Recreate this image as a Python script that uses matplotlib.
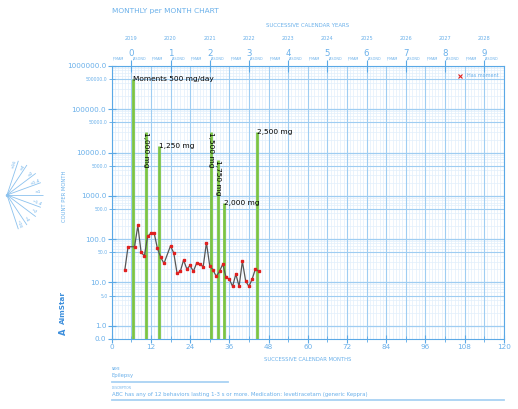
import numpy as np
import matplotlib
matplotlib.use('Agg')
import matplotlib.pyplot as plt
from matplotlib.ticker import FixedLocator, FixedFormatter, NullFormatter
from matplotlib.lines import Line2D

# ---- data ----
months = [4, 5, 7, 8, 9, 10, 11, 12, 13, 14, 15, 16,
          18, 19, 20, 21, 22, 23, 24, 25, 26, 27, 28, 29, 30, 31, 32, 33,
          34, 35, 36, 37, 38, 39, 40, 41, 42, 43, 44, 45]
counts = [19, 67, 67, 207, 50, 41, 116, 138, 138, 61, 38.5, 27.5,
          70, 48, 16.5, 18, 33, 20.4, 24.7, 18, 28, 26.6, 23, 83, 24.3, 19.6, 13.8, 18,
          26.6, 13.1, 12, 8.1, 15.6, 8.1, 30.6, 10.9, 8.1, 12, 20.7, 18]

moment_months = [6.5, 10.5, 14.5, 30.5, 32.5, 34.5, 44.5]
moment_heights = [500000, 30000, 14500, 30000, 6800, 690, 30000]
moment_labels = ['Moments 500 mg/day', '1,000 mg', '1,250 mg', '1,500 mg',
                 '1,750 mg', '2,000 mg', '2,500 mg']
moment_rotations = [0, -90, 0, -90, -90, 0, 0]

year_numbers = ['0', '1', '2', '3', '4', '5', '6', '7', '8', '9']
calendar_years = ['2019', '2020', '2021', '2022', '2023', '2024', '2025', '2026', '2027', '2028']
x_tick_labels = ['0', '12', '24', '36', '48', '60', '72', '84', '96', '108', '120']

y_major = [0.5, 1, 10, 100, 1000, 10000, 100000, 1000000]
y_major_labels = ['0.0', '1.0', '10.0', '100.0', '1000.0', '10000.0', '100000.0', '1000000.0']
y_five = [5, 50, 500, 5000, 50000, 500000]
y_five_labels = ['5.0', '50.0', '500.0', '5000.0', '50000.0', '500000.0']

celerations = [16, 4, 2, 1.4, 1, 1 / 1.4, 1 / 2, 1 / 4, 1 / 16]
celeration_labels = ['×16', '×4', '×2', '×1.4', '×1', '÷1.4', '÷2', '÷4', '÷16']

BLUE = '#5aa8e6'
TXT = '#6ab0ea'
GRID_MAJ = '#9fcdf2'
GRID_MIN = '#e1effb'
GREEN = '#7cc444'

W, H = 518, 409
fig = plt.figure(figsize=(W / 100, H / 100), dpi=100)
fig.patch.set_facecolor('white')

L, R, T, B = 111.7, 503.7, 66.0, 338.8
ax = fig.add_axes([L / W, 1 - B / H, (R - L) / W, (B - T) / H])
ax.set_yscale('log')
ax.set_xlim(0, 120)
ax.set_ylim(0.5, 1e6)

# grid
for m in range(0, 121):
    ax.axvline(m, color=GRID_MIN, lw=0.5, zorder=0)
for m in range(0, 121, 6):
    ax.axvline(m, color=GRID_MAJ, lw=0.8, zorder=0.5)
for d in range(0, 6):
    for k in [2, 3, 4, 6, 7, 8, 9]:
        ax.axhline(k * 10 ** d, color=GRID_MIN, lw=0.5, zorder=0)
for v in y_five:
    ax.axhline(v, color=GRID_MAJ, lw=0.8, zorder=0.5)
for v in y_major[1:]:
    ax.axhline(v, color=GRID_MAJ, lw=0.9, zorder=0.5)

# moments (green lines)
ax.vlines(moment_months, 0.5, moment_heights, color=GREEN, lw=2.0, zorder=2)
for mx, h, lab, rot in zip(moment_months, moment_heights, moment_labels, moment_rotations):
    if rot == 0:
        ax.text(mx, h, lab, ha='left', va='center', fontsize=5.3, color='black', zorder=5)
    else:
        ax.text(mx, h, lab, ha='center', va='top', rotation=rot, fontsize=5.3,
                color='black', zorder=5)

# data
ax.plot(months, counts, color='#555555', lw=0.9, zorder=3)
ax.plot(months, counts, ls='none', marker='s', ms=1.6, mfc='#e02020', mec='#e02020', zorder=4)

# legend
ax.plot([], [], ls='none', marker='x', color='#e02020', ms=3, mew=0.8, label='Has moment')
leg = ax.legend(loc='upper right', bbox_to_anchor=(0.995, 0.985), frameon=False,
                fontsize=3.5, handletextpad=0.4, borderpad=0.2)
for t in leg.get_texts():
    t.set_color(TXT)

# spines
for s in ax.spines.values():
    s.set_color(BLUE)
    s.set_linewidth(0.8)

# y ticks
ax.yaxis.set_major_locator(FixedLocator(y_major))
ax.yaxis.set_major_formatter(FixedFormatter(y_major_labels))
ax.yaxis.set_minor_locator(FixedLocator(y_five))
ax.yaxis.set_minor_formatter(FixedFormatter(y_five_labels))
ax.tick_params(axis='y', which='major', labelsize=5.2, colors=BLUE, labelcolor=TXT,
               direction='inout', length=6, width=0.8, pad=1)
ax.tick_params(axis='y', which='minor', labelsize=3.3, colors=BLUE, labelcolor=TXT,
               direction='inout', length=4, width=0.6, pad=1)

# x ticks
ax.xaxis.set_major_locator(FixedLocator(list(range(0, 121, 12))))
ax.xaxis.set_major_formatter(FixedFormatter(x_tick_labels))
ax.xaxis.set_minor_locator(FixedLocator(list(range(6, 121, 12))))
ax.xaxis.set_minor_formatter(NullFormatter())
ax.tick_params(axis='x', which='major', labelsize=5.2, colors=BLUE, labelcolor=TXT,
               direction='inout', length=6, width=0.8, pad=1)
ax.tick_params(axis='x', which='minor', colors=BLUE, direction='inout', length=4, width=0.6)
ax.set_xlabel('SUCCESSIVE CALENDAR MONTHS', fontsize=3.8, color=TXT, labelpad=5)

px = lambda y: 1 - y / H
fig.text(65 / W, px(196), 'COUNT PER MONTH', rotation=90, ha='center', va='center',
         fontsize=3.8, color=TXT)

# top axis: years
top = ax.twiny()
top.set_xlim(0, 120)
top.xaxis.set_major_locator(FixedLocator([6 + 12 * i for i in range(10)]))
top.xaxis.set_major_formatter(FixedFormatter(year_numbers))
top.tick_params(axis='x', which='major', labelsize=6.2, colors=BLUE, labelcolor=TXT,
                direction='inout', length=8, width=0.8, pad=2)
for s in top.spines.values():
    s.set_visible(False)

for i, yr in enumerate(calendar_years):
    xm = 6 + 12 * i
    xf = (L + xm / 120 * (R - L)) / W
    fig.text(xf, px(39), yr, ha='center', va='center', fontsize=3.6, color=TXT)
for i in range(20):
    xm = 6 * i + 0.3
    xf = (L + xm / 120 * (R - L)) / W
    fig.text(xf, px(58.3), '|FMAM' if i % 2 == 0 else '|ASOND', ha='left', va='center',
             fontsize=2.4, color=TXT)
fig.text(((L + R) / 2) / W, px(25.7), 'SUCCESSIVE CALENDAR YEARS', ha='center', va='center',
         fontsize=3.9, color=TXT)
fig.text(L / W, px(11), 'MONTHLY per MONTH CHART', ha='left', va='center',
         fontsize=5.3, color=TXT)

# celeration fan
fan = fig.add_axes([0, 1 - 245 / H, 80 / W, 100 / H])
fan.set_xlim(0, 80)
fan.set_ylim(245, 145)
fan.axis('off')
ox, oy = 7, 195
k = 2.5
for c, lab in zip(celerations, celeration_labels):
    th = np.arctan(k * np.log10(c))
    ex, ey = ox + 36 * np.cos(th), oy - 36 * np.sin(th)
    fan.plot([ox, ex], [oy, ey], color='#8cc2ee', lw=0.6, solid_capstyle='butt')
    lx, ly = ox + 31 * np.cos(th), oy - 31 * np.sin(th)
    fan.text(lx - 2.6 * np.sin(th), ly - 2.6 * np.cos(th), lab, rotation=np.degrees(th),
             ha='center', va='center', fontsize=3.2, color=TXT, rotation_mode='anchor')
fan.plot([ox], [oy], marker='o', ms=1.5, color='#8cc2ee')

# AimStar logo
fig.text(63 / W, px(307), 'AimStar', rotation=90, ha='center', va='center',
         fontsize=5.2, fontweight='bold', color='#3d8fdc')
fig.text(63 / W, px(332), 'A', rotation=90, ha='center', va='center',
         fontsize=6, fontweight='bold', color='#3d8fdc')

# name / description block
fig.text(L / W, px(369.5), 'NAME', fontsize=2.2, color=TXT, va='center')
fig.text(L / W, px(376), 'Epilepsy', fontsize=3.8, color=TXT, va='center')
fig.add_artist(Line2D([L / W, 228 / W], [px(381.7), px(381.7)], color='#a9d2f3', lw=1.3))
fig.text(L / W, px(387.8), 'DESCRIPTION', fontsize=2.2, color=TXT, va='center')
fig.text(L / W, px(394.3),
         'ABC has any of 12 behaviors lasting 1-3 s or more. Medication: levetiracetam (generic Keppra)',
         fontsize=3.9, color=TXT, va='center')
fig.add_artist(Line2D([L / W, R / W], [px(400), px(400)], color='#a9d2f3', lw=1.3))

fig.savefig('out.png', dpi=100)
